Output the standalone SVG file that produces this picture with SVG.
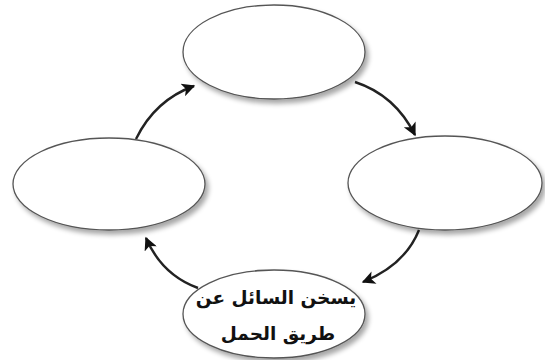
<svg xmlns="http://www.w3.org/2000/svg" width="545" height="360" viewBox="0 0 545 360">
<defs>
<filter id="sh" x="-10%" y="-10%" width="125%" height="130%">
<feGaussianBlur in="SourceAlpha" stdDeviation="2.5"/>
<feOffset dx="3" dy="4" result="b"/>
<feComponentTransfer><feFuncA type="linear" slope="0.35"/></feComponentTransfer>
<feMerge><feMergeNode/><feMergeNode in="SourceGraphic"/></feMerge>
</filter>
<marker id="ah" viewBox="0 0 10 10" refX="9" refY="5" markerWidth="7" markerHeight="5.5" orient="auto" markerUnits="strokeWidth">
<path d="M0,0 L10,5 L0,10 L2.5,5 Z" fill="#111"/>
</marker>
</defs>
<style>
.node ellipse{fill:#fff;stroke:#555;stroke-width:1.3;filter:url(#sh)}
.conn path{fill:none;stroke:#222;stroke-width:2.4;marker-end:url(#ah)}
.lbl{font-family:"DejaVu Sans",sans-serif;font-weight:bold;font-size:18.5px;fill:#111;text-anchor:middle}
</style>
<rect width="545" height="360" fill="#fff"/>
<g id="conn" class="conn">
<path d="M136,139 Q155,100 194,86"/>
<path d="M355,82 Q395,95 415,135"/>
<path d="M419,230 Q405,265 363,282"/>
<path d="M198,288 Q162,275 146,238"/>
</g>
<g id="n-top" class="node"><ellipse cx="274" cy="52" rx="91" ry="47"/></g>
<g id="n-right" class="node"><ellipse cx="445" cy="183" rx="97" ry="47"/></g>
<g id="n-left" class="node"><ellipse cx="109" cy="184" rx="96" ry="46"/></g>
<g id="n-bottom" class="node"><ellipse cx="274" cy="314" rx="91" ry="44"/>
<text class="lbl" x="276" y="304" direction="rtl">يسخن السائل عن</text>
<text class="lbl" x="278" y="340" direction="rtl">طريق الحمل</text>
</g>
</svg>
